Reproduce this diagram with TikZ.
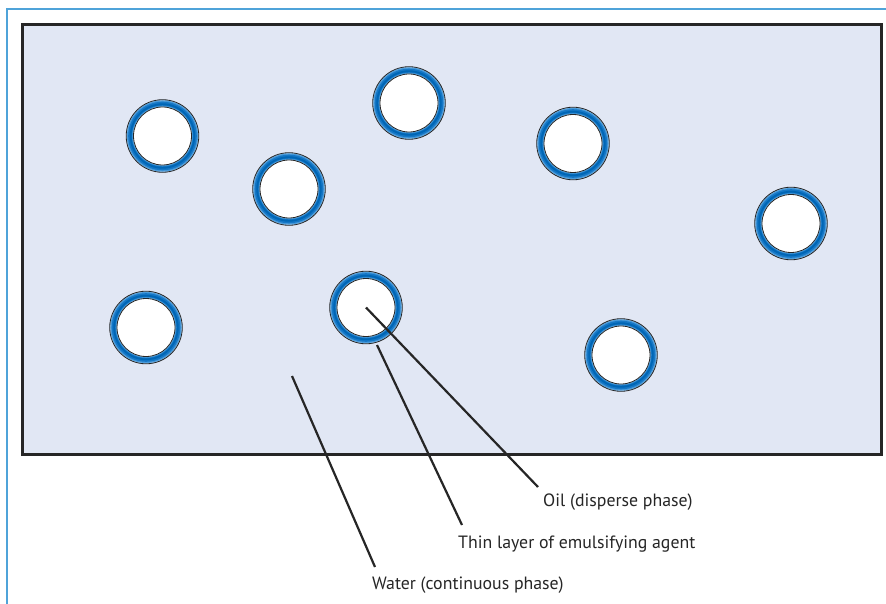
\documentclass[tikz,border=0pt]{standalone}
\usepackage{fontspec}
\setmainfont{PT Sans}
\definecolor{framebl}{HTML}{4FA3D9}
\definecolor{waterbg}{HTML}{E1E7F4}
\definecolor{ringA}{HTML}{9CC8EC}
\definecolor{ringB}{HTML}{4A9BDA}
\definecolor{ringC}{HTML}{1577C6}
\definecolor{ringD}{HTML}{0066B5}
\definecolor{edgec}{HTML}{262626}
\tikzset{
  drop/.style={circle, minimum size=58pt, inner sep=0pt, fill=white, draw=edgec, line width=0.8pt},
  lead/.style={draw=edgec, line width=2.2pt},
  lbl/.style={font=\fontsize{17.8}{20}\selectfont, text=edgec, inner sep=0pt, anchor=base west}
}
\newcommand{\dropring}[2]{%
  \fill[ringA] (#1) circle (36.3);
  \draw[ringB, line width=6pt] (#1) circle (32.5);
  \draw[ringC, line width=4pt] (#1) circle (32.3);
  \draw[ringD, line width=1.8pt] (#1) circle (31.8);
  \draw[edgec, line width=0.8pt] (#1) circle (36.3);
  \node[drop] (#2) at (#1) {};
}
\begin{document}
\begin{tikzpicture}[x=1pt, y=-1pt]
\useasboundingbox (0,0) rectangle (886,604);
\fill[white] (0,0) rectangle (886,604);
% outer frame
\draw[framebl, line width=2pt] (7,604) -- (7,9) -- (886,9);
% water box
\draw[gray!60, line width=3.4pt, fill=waterbg] (22.5,24.5) rectangle (881.5,454.5);
\draw[edgec, line width=2.2pt] (22.5,24.5) rectangle (881.5,454.5);
% droplets
\dropring{162.5,136}{d1}
\dropring{289,189}{d2}
\dropring{409,103}{d3}
\dropring{573,143.5}{d4}
\dropring{791,223.5}{d5}
\dropring{146,327.5}{d6}
\dropring{366,307.5}{oil}
\dropring{621,355}{d8}
% labels
\node[lbl] (toil) at (543,506) {Oil (disperse phase)};
\node[lbl] (tthin) at (458,548) {Thin layer of emulsifying agent};
\node[lbl] (twater) at (372,589) {Water (continuous phase)};
% leader ends
\coordinate (oilend) at (538,487);
\coordinate (thinstart) at (377,345);
\coordinate (thinend) at (462,525);
\coordinate (waterstart) at (292,376);
\coordinate (waterend) at (375,567);
\draw[lead] (oil.center) -- (oilend);
\draw[lead] (thinstart) -- (thinend);
\draw[lead] (waterstart) -- (waterend);
\end{tikzpicture}
\end{document}
